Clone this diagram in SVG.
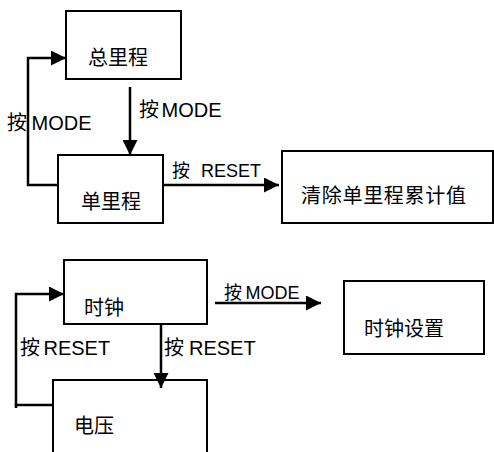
<svg xmlns="http://www.w3.org/2000/svg" width="494" height="452" viewBox="0 0 494 452">
<style>
.box{fill:#fff;stroke:#000;stroke-width:2}
.con{fill:none;stroke:#000;stroke-width:2.5}
text{font-family:"Liberation Sans","Noto Sans CJK SC",sans-serif;fill:#000}
.zh{font-size:20px}
.lb{font-size:20px}
.lb18{font-size:18px}
</style>
<defs>
<marker id="ah" markerUnits="userSpaceOnUse" markerWidth="15" markerHeight="15" refX="15" refY="7.5" orient="auto">
<path d="M0,0 L15,7.5 L0,15 Z" fill="#000"/>
</marker>
</defs>
<rect width="494" height="452" fill="#fff"/>
<g id="node-zonglicheng">
<rect class="box" x="66" y="11" width="115" height="68"/>
<text class="zh" x="88" y="65">总里程</text>
</g>
<g id="node-danlicheng">
<rect class="box" x="58" y="155" width="105" height="68"/>
<text class="zh" x="81" y="209">单里程</text>
</g>
<g id="node-qingchu">
<rect class="box" x="282" y="151" width="211" height="72"/>
<text class="zh" x="301" y="203" textLength="165" lengthAdjust="spacing">清除单里程累计值</text>
</g>
<g id="node-shizhong">
<rect class="box" x="64" y="260" width="143" height="64"/>
<text class="zh" x="84" y="315">时钟</text>
</g>
<g id="node-shizhongshezhi">
<rect class="box" x="344" y="281" width="140" height="73"/>
<text class="zh" x="364" y="336">时钟设置</text>
</g>
<g id="node-dianya">
<path class="box" d="M53,453 V380 H207 V453"/>
<text class="zh" x="74" y="433">电压</text>
</g>
<g id="connectors">
<polyline class="con" points="58,185 28,185 28,58 66,58" marker-end="url(#ah)"/>
<line class="con" x1="130" y1="87" x2="130" y2="155" marker-end="url(#ah)"/>
<line class="con" x1="163" y1="185" x2="279" y2="185" marker-end="url(#ah)"/>
<polyline class="con" points="53,405 16,405 16,294 64,294" marker-end="url(#ah)"/>
<line class="con" x1="16" y1="404" x2="16" y2="408"/>
<line class="con" x1="161" y1="324" x2="161" y2="388" marker-end="url(#ah)"/>
<line class="con" x1="215" y1="303" x2="321" y2="303" marker-end="url(#ah)"/>
<text class="lb"><tspan x="139" y="117">按</tspan><tspan x="161.5" y="117">MODE</tspan></text>
<text class="lb"><tspan x="7" y="130">按</tspan><tspan x="31.5" y="130">MODE</tspan></text>
<text class="lb18"><tspan x="172" y="177">按</tspan><tspan x="201" y="177">RESET</tspan></text>
<text class="lb18"><tspan x="224" y="299">按</tspan><tspan x="245.5" y="299">MODE</tspan></text>
<text class="lb"><tspan x="20" y="355">按</tspan><tspan x="43.5" y="355">RESET</tspan></text>
<text class="lb"><tspan x="164" y="355">按</tspan><tspan x="189" y="355">RESET</tspan></text>
</g>
</svg>
